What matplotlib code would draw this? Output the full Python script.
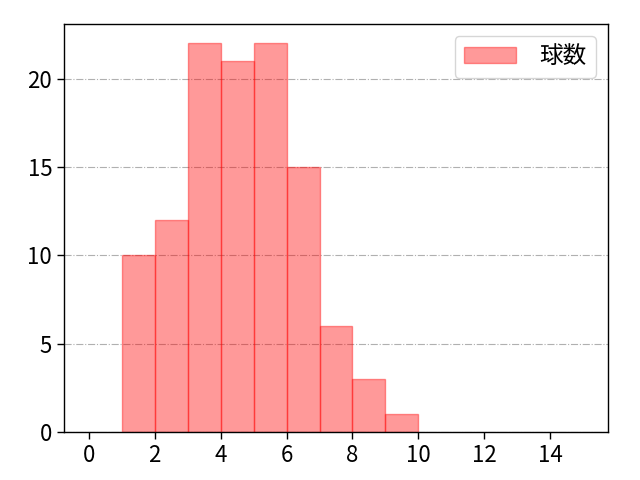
import numpy as np
import matplotlib
matplotlib.use("Agg")
import matplotlib.pyplot as plt

plt.rcParams['font.family'] = ['Noto Sans CJK JP', 'DejaVu Sans']
plt.rcParams['font.size'] = 16

# histogram counts per bin (bin left edges)
bin_left = [1, 2, 3, 4, 5, 6, 7, 8, 9]
counts = [10, 12, 22, 21, 22, 15, 6, 3, 1]
label = '球数'

fig = plt.figure(figsize=(6.4, 4.8), dpi=100)
ax = fig.add_axes([0.1, 0.1, 0.85, 0.85])

ax.bar(bin_left, counts, width=1, align='edge',
       color='red', edgecolor='red', alpha=0.4, linewidth=1.0, label=label)

ax.set_xlim(-0.75, 15.75)
ax.set_ylim(0, 23.1)
ax.set_xticks(np.arange(0, 15, 2))
ax.set_yticks([0, 5, 10, 15, 20])
ax.tick_params(labelsize=16, length=5, width=1.0)
for s in ax.spines.values():
    s.set_linewidth(1.0)
ax.grid(axis='y', linestyle='-.', color='#b0b0b0', linewidth=0.8)
ax.set_axisbelow(True)
ax.legend(loc='upper right', fontsize=17, handlelength=2.2, handletextpad=1.0)

fig.savefig('out.png')
